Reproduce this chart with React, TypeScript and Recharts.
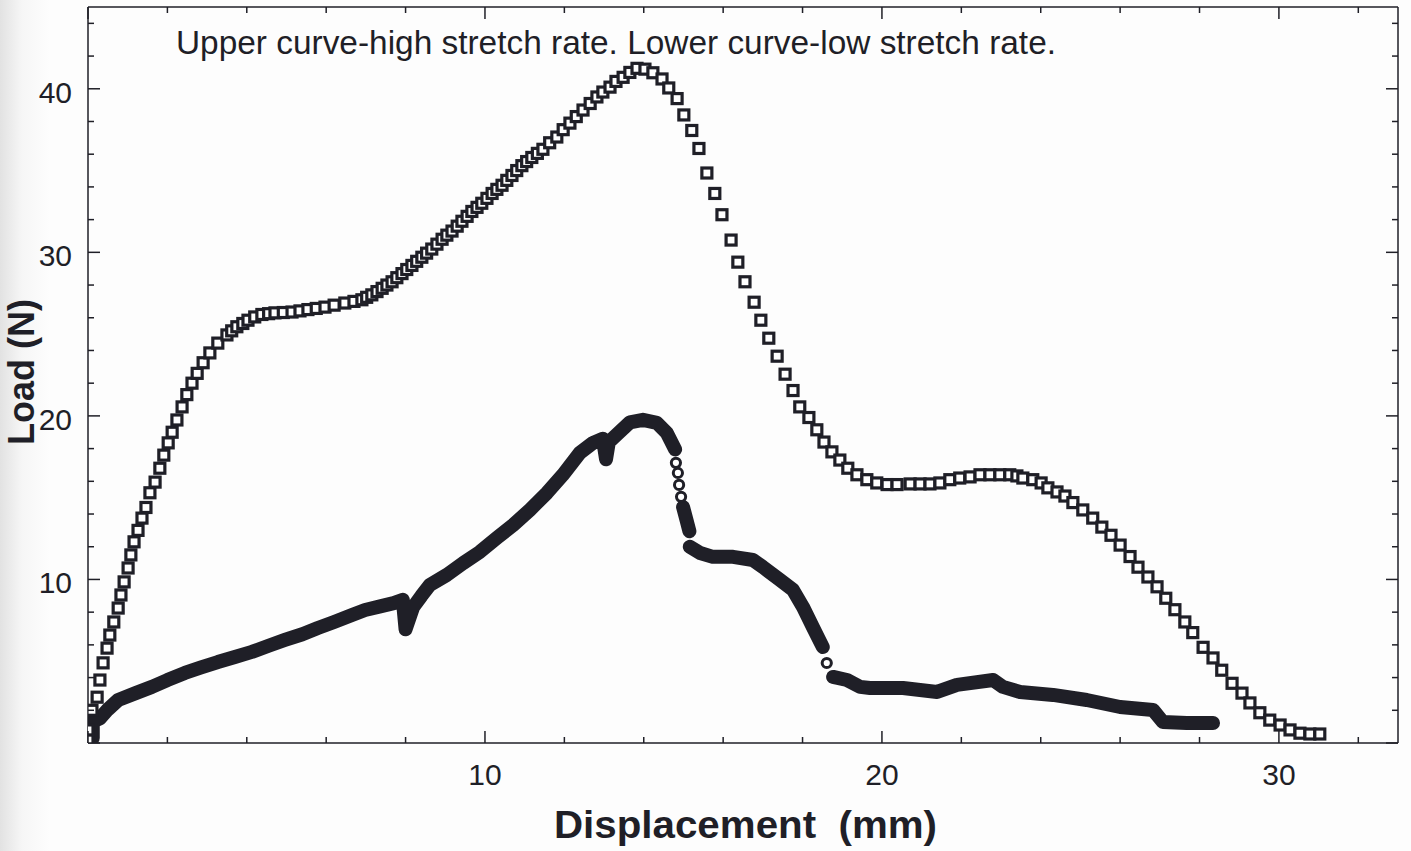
import { ComposedChart, XAxis, YAxis, Line, Scatter } from "recharts";

// displacement (mm), load (N)
const upperCurve: [number, number][] = [
  [0.0, 0.2], [0.0, 0.8], [0.1, 2.0], [0.23, 2.8], [0.3, 3.85], [0.38, 4.9], [0.48, 5.8],
  [0.55, 6.6], [0.65, 7.4], [0.76, 8.25], [0.83, 9.05], [0.91, 9.85], [1.01, 10.7],
  [1.08, 11.5], [1.16, 12.3], [1.26, 13.0], [1.36, 13.75], [1.46, 14.4], [1.56, 15.3],
  [1.69, 15.95], [1.81, 16.8], [1.91, 17.6], [2.02, 18.35], [2.12, 19.0], [2.24, 19.75],
  [2.37, 20.55], [2.49, 21.3], [2.62, 22.0], [2.75, 22.6], [2.9, 23.25], [3.07, 23.85],
  [3.27, 24.45], [3.5, 24.95], [3.62, 25.2], [3.75, 25.45], [3.9, 25.65], [4.03, 25.85],
  [4.2, 26.05], [4.38, 26.2], [4.55, 26.25], [4.71, 26.3], [4.92, 26.32], [5.14, 26.35],
  [5.34, 26.42], [5.54, 26.5], [5.75, 26.57], [5.97, 26.65], [6.2, 26.77], [6.47, 26.9],
  [6.7, 27.0], [6.9, 27.1], [7.02, 27.25], [7.15, 27.4], [7.28, 27.6], [7.41, 27.8],
  [7.53, 28.0], [7.66, 28.2], [7.78, 28.45], [7.91, 28.7], [8.03, 28.95], [8.16, 29.2],
  [8.28, 29.45], [8.41, 29.7], [8.53, 29.95], [8.66, 30.2], [8.79, 30.5], [8.92, 30.8],
  [9.04, 31.05], [9.17, 31.3], [9.3, 31.6], [9.42, 31.9], [9.55, 32.2], [9.67, 32.5],
  [9.8, 32.75], [9.92, 33.0], [10.05, 33.3], [10.18, 33.6], [10.3, 33.85], [10.43, 34.1],
  [10.55, 34.4], [10.68, 34.7], [10.8, 35.0], [10.93, 35.3], [11.05, 35.55], [11.18, 35.8],
  [11.32, 36.05], [11.46, 36.3], [11.63, 36.7], [11.81, 37.05], [11.97, 37.5], [12.14, 37.9],
  [12.3, 38.3], [12.47, 38.7], [12.65, 39.1], [12.82, 39.5], [12.97, 39.8], [13.15, 40.1],
  [13.3, 40.45], [13.48, 40.7], [13.65, 41.0], [13.83, 41.25],
  [14.03, 41.2], [14.23, 40.98], [14.46, 40.6], [14.63, 40.05], [14.84, 39.4], [15.01, 38.4],
  [15.21, 37.45], [15.39, 36.35], [15.59, 34.85], [15.79, 33.6], [15.97, 32.3], [16.2, 30.75],
  [16.37, 29.4], [16.55, 28.2], [16.78, 26.95], [16.95, 25.85], [17.15, 24.75], [17.36, 23.65],
  [17.56, 22.55], [17.76, 21.55], [17.93, 20.55], [18.16, 19.9], [18.36, 19.15], [18.54, 18.4],
  [18.74, 17.8], [18.94, 17.3], [19.14, 16.8], [19.37, 16.4], [19.62, 16.1], [19.87, 15.9],
  [20.13, 15.8], [20.38, 15.8], [20.71, 15.84], [20.96, 15.84], [21.21, 15.84], [21.46, 15.9],
  [21.71, 16.1], [21.96, 16.2], [22.22, 16.27], [22.47, 16.4], [22.72, 16.4], [22.97, 16.4],
  [23.22, 16.4], [23.4, 16.33], [23.55, 16.2], [23.8, 16.1], [24.01, 15.9], [24.18, 15.6],
  [24.41, 15.35], [24.61, 15.1], [24.81, 14.7], [25.06, 14.25], [25.31, 13.75], [25.54, 13.2],
  [25.77, 12.7], [26.0, 12.1], [26.25, 11.4], [26.45, 10.75], [26.7, 10.15], [26.93, 9.55],
  [27.15, 8.85], [27.38, 8.15], [27.63, 7.4], [27.83, 6.75], [28.09, 5.85], [28.34, 5.2],
  [28.56, 4.45], [28.82, 3.65], [29.07, 3.05], [29.27, 2.45], [29.52, 1.85], [29.77, 1.4],
  [30.03, 1.1], [30.28, 0.8], [30.53, 0.6], [30.78, 0.55], [31.03, 0.55],
];

const lowerSeg1: [number, number][] = [
  [0.12, 0.3], [0.12, 1.3], [0.3, 1.5], [0.5, 2.05], [0.76, 2.63], [1.2, 3.05], [1.61, 3.43],
  [2.0, 3.85], [2.44, 4.28], [2.85, 4.62], [3.27, 4.95], [3.7, 5.26], [4.13, 5.57],
  [4.55, 5.95], [4.96, 6.3], [5.4, 6.65], [5.79, 7.03], [6.2, 7.4], [6.65, 7.83],
  [6.98, 8.13], [7.36, 8.35], [7.7, 8.55], [7.93, 8.75], [8.0, 6.95], [8.19, 8.3],
  [8.4, 9.0], [8.61, 9.66], [9.04, 10.28], [9.45, 11.0], [9.87, 11.68], [10.3, 12.54],
  [10.71, 13.33], [11.13, 14.25], [11.56, 15.29], [11.96, 16.39], [12.39, 17.74],
  [12.72, 18.35], [12.97, 18.6], [13.05, 17.35], [13.12, 18.4], [13.32, 18.85],
  [13.65, 19.6], [13.98, 19.76], [14.33, 19.57], [14.58, 18.96], [14.79, 17.95],
];
const lowerOpen1: [number, number][] = [
  [14.81, 17.13], [14.86, 16.51], [14.89, 15.78], [14.94, 15.05],
];
const lowerSeg2: [number, number][] = [[14.99, 14.43], [15.08, 13.6], [15.15, 12.95]];
const lowerSeg3: [number, number][] = [
  [15.16, 12.0], [15.42, 11.62], [15.74, 11.38], [16.25, 11.38], [16.75, 11.19],
  [17.0, 10.76], [17.43, 9.97], [17.76, 9.36], [18.01, 8.32], [18.26, 7.09], [18.51, 5.87],
];
const lowerOpen2: [number, number][] = [[18.61, 4.89]];
const lowerSeg4: [number, number][] = [
  [18.77, 4.04], [19.12, 3.85], [19.45, 3.43], [19.7, 3.36], [20.53, 3.36], [21.39, 3.12],
  [21.89, 3.55], [22.8, 3.85], [23.05, 3.43], [23.48, 3.12], [24.31, 2.94], [25.16, 2.63],
  [26.0, 2.2], [26.83, 2.02], [27.08, 1.28], [27.68, 1.22], [28.34, 1.22],
];

const xTicks = [0, 2, 4, 6, 8, 10, 12, 14, 16, 18, 20, 22, 24, 26, 28, 30, 32];
const yTicks = [0, 2, 4, 6, 8, 10, 12, 14, 16, 18, 20, 22, 24, 26, 28, 30, 32, 34, 36, 38, 40, 42, 44];

const rows = (pts: [number, number][]) => pts.map(([x, y]) => ({ x, y }));

const INK = "#1f1f27";
const FONT = "'Liberation Sans', Arial, Helvetica, sans-serif";

const tickLen = (v: number) => (v % 10 === 0 ? 12 : 6);

function BottomTick(props: any) {
  const { x, y, payload } = props;
  const v = payload.value;
  return (
    <g>
      <line x1={x} y1={y} x2={x} y2={y - tickLen(v)} stroke={INK} strokeWidth={1.5} />
      {v % 10 === 0 && v !== 0 && (
        <text x={x} y={y + 42} textAnchor="middle" fontSize={30} fontFamily={FONT} fill={INK}>
          {v}
        </text>
      )}
    </g>
  );
}

function TopTick(props: any) {
  const { x, y, payload } = props;
  return <line x1={x} y1={y} x2={x} y2={y + tickLen(payload.value)} stroke={INK} strokeWidth={1.5} />;
}

function LeftTick(props: any) {
  const { x, y, payload } = props;
  const v = payload.value;
  return (
    <g>
      <line x1={x} y1={y} x2={x + tickLen(v)} y2={y} stroke={INK} strokeWidth={1.5} />
      {v % 10 === 0 && v !== 0 && (
        <text x={x - 16} y={y + 14} textAnchor="end" fontSize={30} fontFamily={FONT} fill={INK}>
          {v}
        </text>
      )}
    </g>
  );
}

function RightTick(props: any) {
  const { x, y, payload } = props;
  return <line x1={x} y1={y} x2={x - tickLen(payload.value)} y2={y} stroke={INK} strokeWidth={1.5} />;
}

function XTitle() {
  return (
    <text
      x={554}
      y={838}
      fontSize={38}
      fontWeight="bold"
      fontFamily={FONT}
      fill={INK}
      textLength={383}
      lengthAdjust="spacingAndGlyphs"
      style={{ whiteSpace: "pre" }}
    >
      {"Displacement  (mm)"}
    </text>
  );
}

function YTitle() {
  return (
    <text
      x={34}
      y={372}
      transform="rotate(-90, 34, 372)"
      textAnchor="middle"
      fontSize={36}
      fontWeight="bold"
      fontFamily={FONT}
      fill={INK}
    >
      Load (N)
    </text>
  );
}

function Note() {
  return (
    <text
      x={176}
      y={54}
      fontSize={33}
      fontFamily={FONT}
      fill={INK}
      textLength={880}
      lengthAdjust="spacingAndGlyphs"
    >
      Upper curve-high stretch rate. Lower curve-low stretch rate.
    </text>
  );
}

function Square(props: any) {
  const { cx, cy } = props;
  if (cx == null || cy == null) return <g />;
  return (
    <rect x={cx - 5} y={cy - 5} width={10} height={10} fill="#fff" stroke={INK} strokeWidth={3.2} />
  );
}

function Ring(props: any) {
  const { cx, cy } = props;
  if (cx == null || cy == null) return <g />;
  return <circle cx={cx} cy={cy} r={4.6} fill="#fff" stroke={INK} strokeWidth={3} />;
}

const lineProps = {
  type: "linear" as const,
  dataKey: "y",
  stroke: INK,
  strokeWidth: 14,
  strokeLinecap: "round" as const,
  strokeLinejoin: "round" as const,
  dot: false,
  activeDot: false,
  isAnimationActive: false,
};

export default function App() {
  return (
    <div
      style={{
        position: "absolute",
        left: 0,
        top: 0,
        width: 1411,
        height: 851,
        background: "linear-gradient(to right, #e2e2e2 0px, #f6f6f6 22px, #fdfdfd 50px, #fdfdfd 100%)",
      }}
    >
      <ComposedChart width={1411} height={851} margin={{ top: 0, right: 0, bottom: 0, left: 0 }}>
        <XAxis
          dataKey="x"
          type="number"
          domain={[0, 33]}
          allowDataOverflow
          ticks={xTicks}
          interval={0}
          height={108}
          tickSize={0}
          tickMargin={0}
          tickLine={false}
          tick={<BottomTick />}
          axisLine={{ stroke: INK, strokeWidth: 1.5 }}
          label={<XTitle />}
        />
        <XAxis
          xAxisId="top"
          orientation="top"
          dataKey="x"
          type="number"
          domain={[0, 33]}
          allowDataOverflow
          ticks={xTicks}
          interval={0}
          height={7}
          tickSize={0}
          tickMargin={0}
          tickLine={false}
          tick={<TopTick />}
          axisLine={{ stroke: INK, strokeWidth: 1.5 }}
          label={<Note />}
        />
        <YAxis
          dataKey="y"
          type="number"
          domain={[0, 45]}
          allowDataOverflow
          ticks={yTicks}
          interval={0}
          width={88}
          tickSize={0}
          tickMargin={0}
          tickLine={false}
          tick={<LeftTick />}
          axisLine={{ stroke: INK, strokeWidth: 1.5 }}
          label={<YTitle />}
        />
        <YAxis
          yAxisId="right"
          orientation="right"
          dataKey="y"
          type="number"
          domain={[0, 45]}
          allowDataOverflow
          ticks={yTicks}
          interval={0}
          width={13}
          tickSize={0}
          tickMargin={0}
          tickLine={false}
          tick={<RightTick />}
          axisLine={{ stroke: INK, strokeWidth: 1.5 }}
        />
        <Line {...lineProps} data={rows(lowerSeg1)} />
        <Line {...lineProps} data={rows(lowerSeg2)} />
        <Line {...lineProps} data={rows(lowerSeg3)} />
        <Line {...lineProps} data={rows(lowerSeg4)} />
        <Scatter data={rows(lowerOpen1)} dataKey="y" shape={<Ring />} isAnimationActive={false} />
        <Scatter data={rows(lowerOpen2)} dataKey="y" shape={<Ring />} isAnimationActive={false} />
        <Scatter data={rows(upperCurve)} dataKey="y" shape={<Square />} isAnimationActive={false} />
      </ComposedChart>
    </div>
  );
}
